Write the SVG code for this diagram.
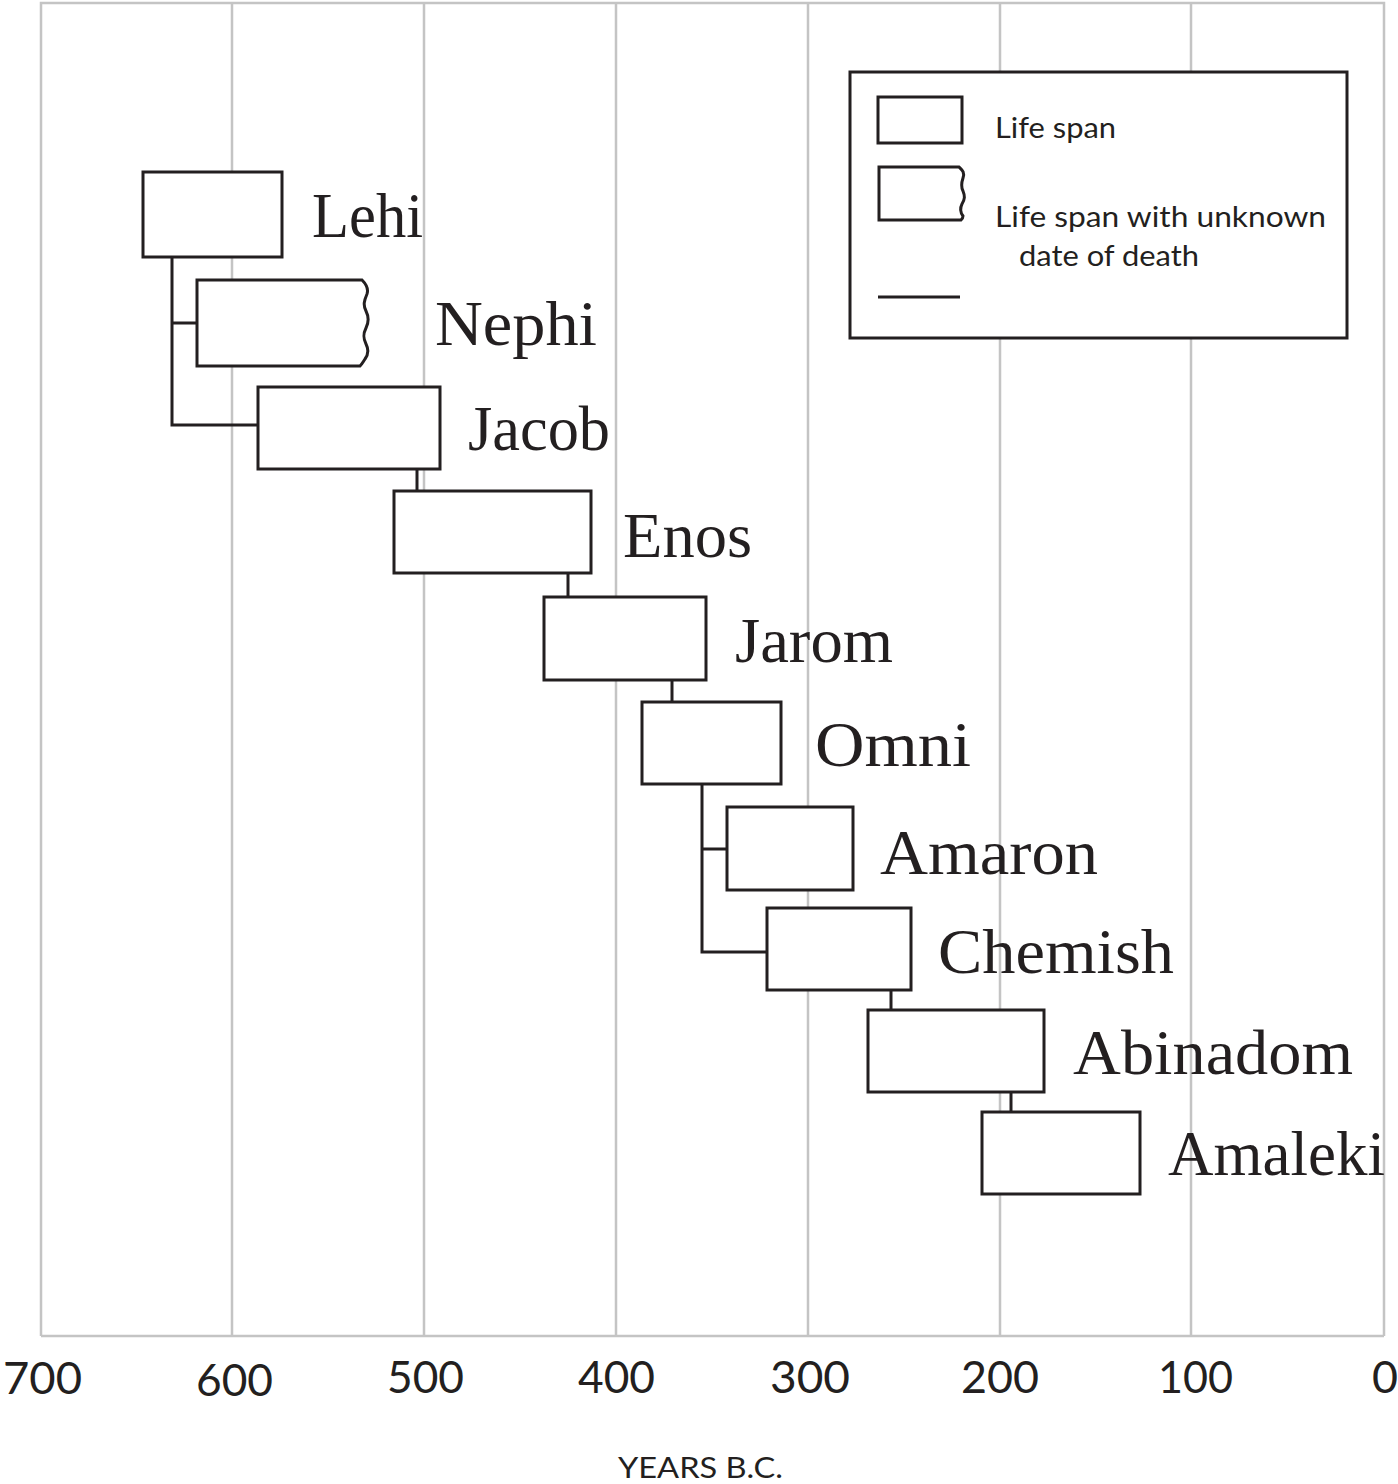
<svg xmlns="http://www.w3.org/2000/svg" width="1398" height="1484" viewBox="0 0 1398 1484">
<style>
.grid{stroke:#c4c4c4;stroke-width:2.5;fill:none}
.box{fill:#fff;stroke:#231f20;stroke-width:3}
.conn{stroke:#231f20;stroke-width:3;fill:none}
.name{font-family:"Liberation Serif","Times New Roman",serif;font-size:64px;fill:#231f20}
.leg{font-family:"Lato","Liberation Sans",sans-serif;font-size:28px;fill:#231f20}
.axis{font-family:"Lato","Liberation Sans",Arial,sans-serif;font-size:44px;fill:#231f20}
.ttl{font-family:"Lato","Liberation Sans",Arial,sans-serif;font-size:28px;fill:#231f20}
</style>
<rect width="1398" height="1484" fill="#fff"/>
<g id="grid">
<path class="grid" d="M41,1336V3H1384V1336"/>
<path class="grid" d="M232,3V1336M424,3V1336M616,3V1336M808,3V1336M1000,3V1336M1191,3V1336"/>
<path class="grid" d="M41,1336H1384" stroke-width="3.5"/>
</g>
<g id="axis-labels">
<text class="axis" x="3" y="1394" textLength="79" lengthAdjust="spacingAndGlyphs">700</text>
<text class="axis" x="196" y="1396" textLength="77" lengthAdjust="spacingAndGlyphs">600</text>
<text class="axis" x="387" y="1393" textLength="77" lengthAdjust="spacingAndGlyphs">500</text>
<text class="axis" x="578" y="1393" textLength="77" lengthAdjust="spacingAndGlyphs">400</text>
<text class="axis" x="770" y="1393" textLength="80" lengthAdjust="spacingAndGlyphs">300</text>
<text class="axis" x="961" y="1393" textLength="78" lengthAdjust="spacingAndGlyphs">200</text>
<text class="axis" x="1158" y="1393" textLength="75" lengthAdjust="spacingAndGlyphs">100</text>
<text class="axis" x="1372" y="1393" textLength="26" lengthAdjust="spacingAndGlyphs">0</text>
<text class="ttl" x="618" y="1478" textLength="165" lengthAdjust="spacingAndGlyphs">YEARS B.C.</text>
</g>
<g id="legend">
<rect x="850" y="72" width="497" height="266" fill="#fff" stroke="#231f20" stroke-width="3"/>
<rect class="box" x="878" y="97" width="84" height="46"/>
<path class="box" d="M879,167H959C962,170 965,172 963,178C961,184 961,187 963,191C965,196 965,199 962,204C960,208 960,212 963,216C963,218 962,219 961,220H879Z"/>
<line class="conn" x1="878" y1="297" x2="960" y2="297"/>
<text class="leg" x="995" y="138" textLength="121" lengthAdjust="spacingAndGlyphs">Life span</text>
<text class="leg" x="995" y="227" textLength="331" lengthAdjust="spacingAndGlyphs">Life span with unknown</text>
<text class="leg" x="1019" y="266" textLength="180" lengthAdjust="spacingAndGlyphs">date of death</text>
</g>
<g id="connectors">
<path class="conn" d="M172,257V425H258M172,323H197"/>
<path class="conn" d="M417,469V491"/>
<path class="conn" d="M568,573V597"/>
<path class="conn" d="M672,680V702"/>
<path class="conn" d="M702,784V952H767M702,849H727"/>
<path class="conn" d="M891,990V1010"/>
<path class="conn" d="M1011,1092V1112"/>
</g>
<g id="lehi"><rect class="box" x="143" y="172" width="139" height="85"/><text class="name" x="312" y="237" textLength="111" lengthAdjust="spacingAndGlyphs">Lehi</text></g>
<g id="nephi"><path class="box" d="M197,280H362C366,284 369,288 367,294C364,301 363,305 366,311C369,317 369,322 366,328C363,334 363,338 366,344C369,350 368,355 365,359C363,362 362,364 360,366H197Z"/><text class="name" x="435" y="345" textLength="162" lengthAdjust="spacingAndGlyphs">Nephi</text></g>
<g id="jacob"><rect class="box" x="258" y="387" width="182" height="82"/><text class="name" x="468" y="450" textLength="142" lengthAdjust="spacingAndGlyphs">Jacob</text></g>
<g id="enos"><rect class="box" x="394" y="491" width="197" height="82"/><text class="name" x="623" y="557" textLength="129" lengthAdjust="spacingAndGlyphs">Enos</text></g>
<g id="jarom"><rect class="box" x="544" y="597" width="162" height="83"/><text class="name" x="735" y="662" textLength="158" lengthAdjust="spacingAndGlyphs">Jarom</text></g>
<g id="omni"><rect class="box" x="642" y="702" width="139" height="82"/><text class="name" x="815" y="766" textLength="156" lengthAdjust="spacingAndGlyphs">Omni</text></g>
<g id="amaron"><rect class="box" x="727" y="807" width="126" height="83"/><text class="name" x="880" y="874" textLength="218" lengthAdjust="spacingAndGlyphs">Amaron</text></g>
<g id="chemish"><rect class="box" x="767" y="908" width="144" height="82"/><text class="name" x="938" y="973" textLength="236" lengthAdjust="spacingAndGlyphs">Chemish</text></g>
<g id="abinadom"><rect class="box" x="868" y="1010" width="176" height="82"/><text class="name" x="1073" y="1074" textLength="280" lengthAdjust="spacingAndGlyphs">Abinadom</text></g>
<g id="amaleki"><rect class="box" x="982" y="1112" width="158" height="82"/><text class="name" x="1168" y="1175" textLength="217" lengthAdjust="spacingAndGlyphs">Amaleki</text></g>
</svg>
